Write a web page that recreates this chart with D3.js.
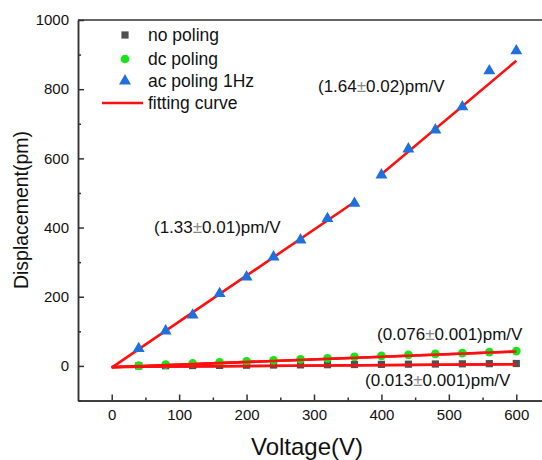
<!DOCTYPE html>
<html><head><meta charset="utf-8">
<script src="https://cdn.jsdelivr.net/npm/d3@7"></script>
<style>html,body{margin:0;padding:0;background:#fff;} svg{display:block;font-family:Arial,"Liberation Sans",sans-serif;}</style>
</head><body>
<script>
const voltages = [40,80,120,160,200,240,280,320,360,400,440,480,520,560,600];
const noPoling = [0,0.5,1,1.5,2,2.5,3,3.5,4,4.5,5,5.5,6,6.5,7];
const dcPoling = [1,4,7,10,13,16,19,22,26,29,32,35,37,40,43];
const acPoling = [50,101,147,209,257,315,364,426,470,552,627,682,749,853,911];
const fits = [
  {x0:0, x1:360, slope:1.33, icpt:-5},
  {x0:400, x1:600, slope:1.64, icpt:-102},
  {x0:0, x1:600, slope:0.076, icpt:-4},
  {x0:0, x1:600, slope:0.013, icpt:-3}
];
const xTicks = [0,100,200,300,400,500,600];
const yTicks = [0,200,400,600,800,1000];
const legendLabels = ["no poling","dc poling","ac poling 1Hz","fitting curve"];
const annotations = [
  {x:318, y:92, pre:"(1.64", post:"0.02)pm/V"},
  {x:154, y:233, pre:"(1.33", post:"0.01)pm/V"},
  {x:377, y:340, pre:"(0.076", post:"0.001)pm/V"},
  {x:365, y:386, pre:"(0.013", post:"0.001)pm/V"}
];

const W=542,H=460;
const svg=d3.select("body").append("svg").attr("width",W).attr("height",H);
const L=78,R=550,T=20,B=400.5;
const x=d3.scaleLinear().domain([-50,650]).range([L,R]);
const y=d3.scaleLinear().domain([-100,1000]).range([B,T]);
const axisColor="#333";

svg.append("line").attr("x1",L).attr("x2",R).attr("y1",T).attr("y2",T).attr("stroke",axisColor).attr("stroke-width",1.5);

const xa=svg.append("g").attr("transform",`translate(0,${B})`)
  .call(d3.axisBottom(x).tickValues(xTicks).tickSizeInner(-6).tickSizeOuter(0).tickPadding(10).tickFormat(d3.format("d")));
const xm=svg.append("g").attr("transform",`translate(0,${B})`)
  .call(d3.axisBottom(x).tickValues(d3.range(50,651,100)).tickSizeInner(-3).tickSizeOuter(0).tickFormat(""));
const ya=svg.append("g").attr("transform",`translate(${L},0)`)
  .call(d3.axisLeft(y).tickValues(yTicks).tickSizeInner(-6).tickSizeOuter(0).tickPadding(9).tickFormat(d3.format("d")));
const ym=svg.append("g").attr("transform",`translate(${L},0)`)
  .call(d3.axisLeft(y).tickValues(d3.range(-100,1000,200)).tickSizeInner(-3).tickSizeOuter(0).tickFormat(""));
[xa,xm,ya,ym].forEach(g=>{
  g.select(".domain").attr("stroke",axisColor).attr("stroke-width",1.5);
  g.selectAll(".tick line").attr("stroke",axisColor).attr("stroke-width",1.5);
  g.selectAll(".tick text").attr("font-size",15).attr("fill","#111").attr("font-family","Arial,'Liberation Sans',sans-serif");
});
xa.selectAll(".tick text").attr("dy","0.71em").attr("y",9);

svg.append("text").attr("x",307).attr("y",455).attr("text-anchor","middle").attr("font-size",24).attr("fill","#111").text("Voltage(V)");
svg.append("text").attr("transform","translate(28,210) rotate(-90)").attr("text-anchor","middle").attr("font-size",19.5).attr("fill","#111").text("Displacement(pm)");

const red="#ff1010";
svg.append("g").selectAll("line").data(fits).join("line")
  .attr("x1",d=>x(d.x0)).attr("x2",d=>x(d.x1))
  .attr("y1",d=>y(d.icpt+d.slope*d.x0)).attr("y2",d=>y(d.icpt+d.slope*d.x1))
  .attr("stroke",red).attr("stroke-width",2.6);

const sq=d3.symbol().type(d3.symbolSquare).size(52);
const ci=d3.symbol().type(d3.symbolCircle).size(60);
const tr=d3.symbol().type(d3.symbolTriangle).size(62);
const gray="#505050", green="#16e516", blue="#1f6fdc";
svg.append("g").selectAll("path").data(voltages).join("path")
  .attr("d",sq).attr("transform",(d,i)=>`translate(${x(d)},${y(noPoling[i])})`).attr("fill",gray);
svg.append("g").selectAll("path").data(voltages).join("path")
  .attr("d",ci).attr("transform",(d,i)=>`translate(${x(d)},${y(dcPoling[i])})`).attr("fill",green);
svg.append("g").selectAll("path").data(voltages).join("path")
  .attr("d",tr).attr("transform",(d,i)=>`translate(${x(d)},${y(acPoling[i])})`).attr("fill",blue);

svg.append("g").selectAll("line").data(fits.slice(2)).join("line")
  .attr("x1",d=>x(d.x0)).attr("x2",d=>x(d.x1))
  .attr("y1",d=>y(d.icpt+d.slope*d.x0)).attr("y2",d=>y(d.icpt+d.slope*d.x1))
  .attr("stroke",red).attr("stroke-width",2.6);

annotations.forEach(a=>{
  const t=svg.append("text").attr("x",a.x).attr("y",a.y).attr("font-size",17).attr("fill","#111");
  t.append("tspan").text(a.pre);
  t.append("tspan").attr("fill","#888").text("±");
  t.append("tspan").text(a.post);
});

const lg=svg.append("g");
const rows=[35,59,81,103];
const symbols=[{p:sq,c:gray},{p:ci,c:green},{p:tr,c:blue}];
symbols.forEach((s,i)=>{
  lg.append("path").attr("d",s.p).attr("transform",`translate(125,${rows[i]})`).attr("fill",s.c);
});
lg.append("line").attr("x1",102).attr("x2",143).attr("y1",rows[3]).attr("y2",rows[3]).attr("stroke",red).attr("stroke-width",2.6);
legendLabels.forEach((l,i)=>{
  lg.append("text").attr("x",148).attr("y",rows[i]).attr("dy","0.35em").attr("font-size",17.5).attr("fill","#111").text(l);
});
</script>
</body></html>
